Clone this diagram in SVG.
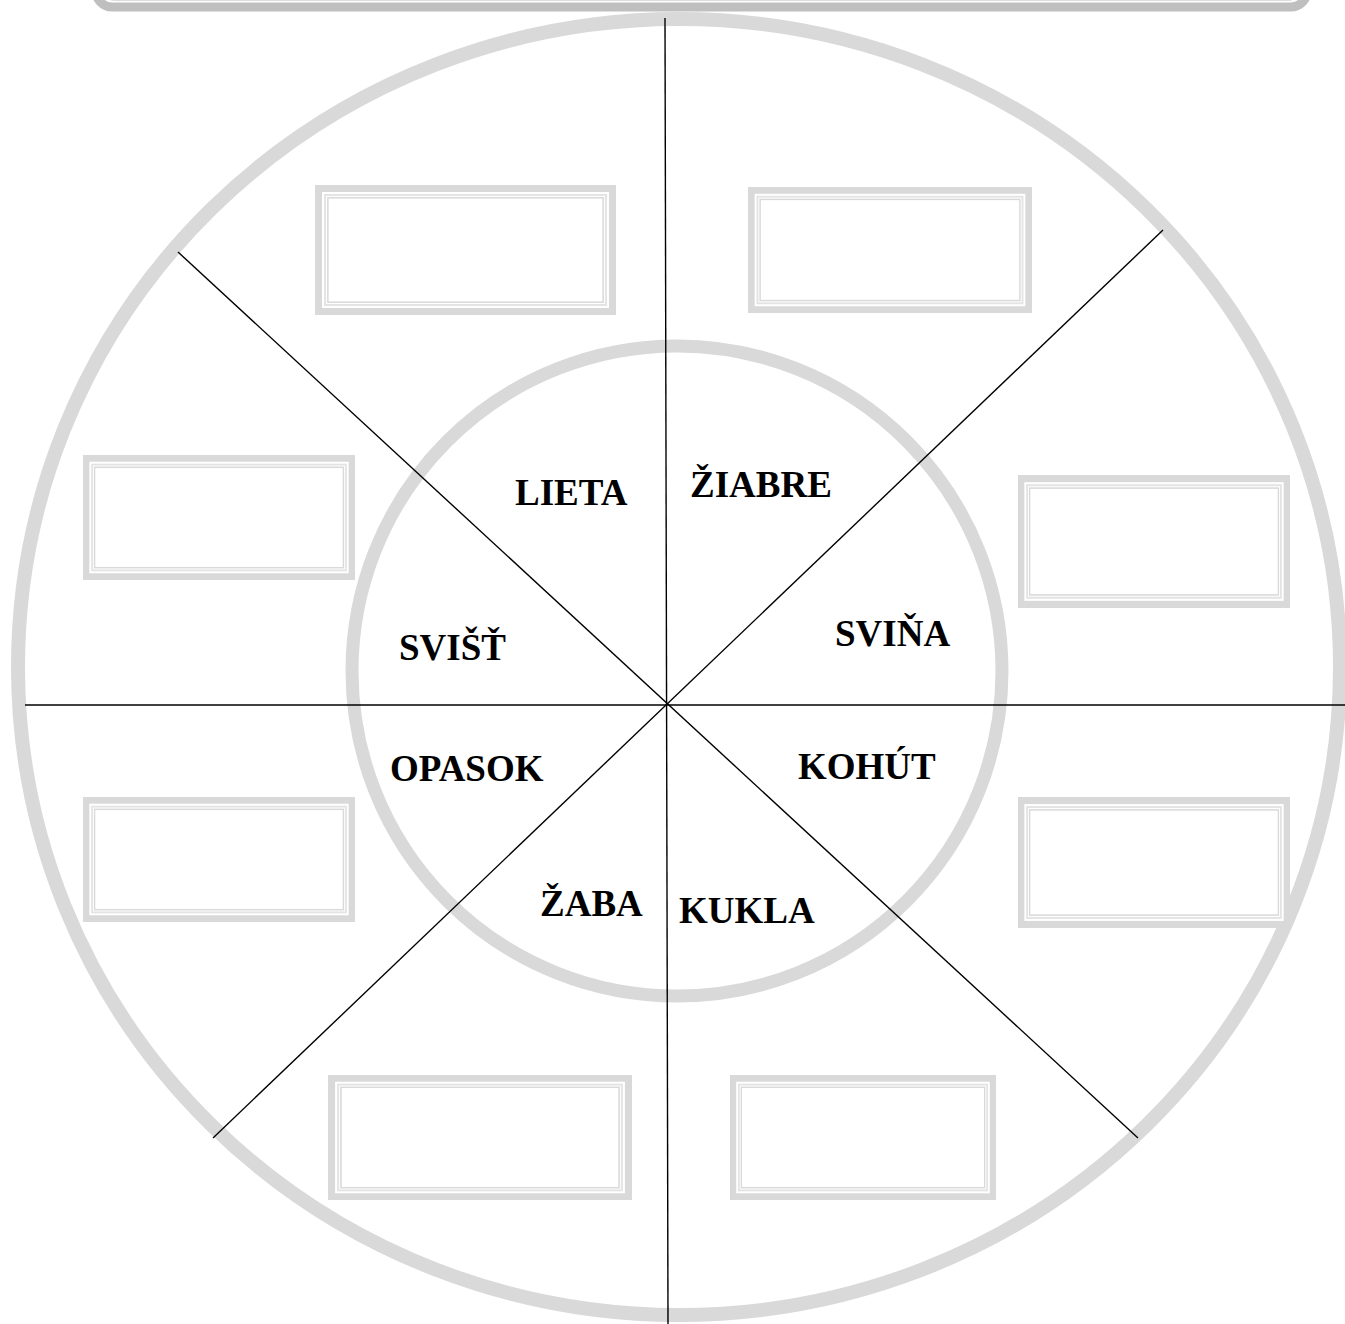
<svg xmlns="http://www.w3.org/2000/svg" width="1345" height="1324" viewBox="0 0 1345 1324">
<style>
.ring{fill:none;stroke:#d9d9d9}
.b1{fill:#fff;stroke:#d9d9d9;stroke-width:7}
.b2{fill:none;stroke:#e4e4e4;stroke-width:2}
.b3{fill:none;stroke:#d9d9d9;stroke-width:1.5}
.ln{stroke:#000;stroke-width:1.4;fill:none}
.lbl{font-family:"Liberation Serif","Times New Roman",serif;font-weight:bold;font-size:37px;fill:#000}
</style>
<defs>
<g id="box">
<rect class="b1" x="3.5" y="3.5" width="293" height="123"/>
<rect class="b2" x="10" y="10" width="280" height="110"/>
<rect class="b3" x="12.8" y="12.8" width="274.4" height="104.4"/>
</g>
</defs>
<rect width="1345" height="1324" fill="#fff"/>
<g id="topbar">
<rect x="96" y="-50" width="1211" height="57" rx="16" fill="none" stroke="#bfbfbf" stroke-width="9"/>
<rect x="104" y="-50" width="1195" height="50" rx="10" fill="none" stroke="#d0d0d0" stroke-width="1.5"/>
</g>
<g id="outer-ring"><ellipse class="ring" cx="679" cy="667" rx="661" ry="648" stroke-width="14"/></g>
<g id="inner-ring"><circle class="ring" cx="677" cy="671" r="325" stroke-width="13"/></g>
<g id="connectors">
<line class="ln" x1="665" y1="18" x2="668" y2="1324"/>
<line class="ln" x1="25" y1="705" x2="1345" y2="705"/>
<line class="ln" x1="178" y1="252" x2="1138" y2="1138"/>
<line class="ln" x1="1163" y1="230" x2="213" y2="1138"/>
</g>
<g id="box-tl"><svg x="315" y="185" width="301" height="130" viewBox="0 0 300 130" preserveAspectRatio="none"><use href="#box"/></svg></g>
<g id="box-tr"><svg x="748" y="187" width="284" height="126" viewBox="0 0 300 130" preserveAspectRatio="none"><use href="#box"/></svg></g>
<g id="box-lu"><svg x="83" y="455" width="272" height="125" viewBox="0 0 300 130" preserveAspectRatio="none"><use href="#box"/></svg></g>
<g id="box-ru"><svg x="1018" y="475" width="272" height="133" viewBox="0 0 300 130" preserveAspectRatio="none"><use href="#box"/></svg></g>
<g id="box-ll"><svg x="83" y="797" width="272" height="125" viewBox="0 0 300 130" preserveAspectRatio="none"><use href="#box"/></svg></g>
<g id="box-rl"><svg x="1018" y="797" width="272" height="131" viewBox="0 0 300 130" preserveAspectRatio="none"><use href="#box"/></svg></g>
<g id="box-bl"><svg x="328" y="1075" width="304" height="125" viewBox="0 0 300 130" preserveAspectRatio="none"><use href="#box"/></svg></g>
<g id="box-br"><svg x="730" y="1075" width="266" height="125" viewBox="0 0 300 130" preserveAspectRatio="none"><use href="#box"/></svg></g>
<g id="label-lieta"><text class="lbl" x="515" y="505">LIETA</text></g>
<g id="label-ziabre"><text class="lbl" x="690" y="497">ŽIABRE</text></g>
<g id="label-svist"><text class="lbl" x="399" y="660">SVIŠŤ</text></g>
<g id="label-svina"><text class="lbl" x="835" y="646">SVIŇA</text></g>
<g id="label-opasok"><text class="lbl" x="390" y="781">OPASOK</text></g>
<g id="label-kohut"><text class="lbl" x="798" y="779">KOHÚT</text></g>
<g id="label-zaba"><text class="lbl" x="540" y="916">ŽABA</text></g>
<g id="label-kukla"><text class="lbl" x="679" y="923">KUKLA</text></g>
</svg>
